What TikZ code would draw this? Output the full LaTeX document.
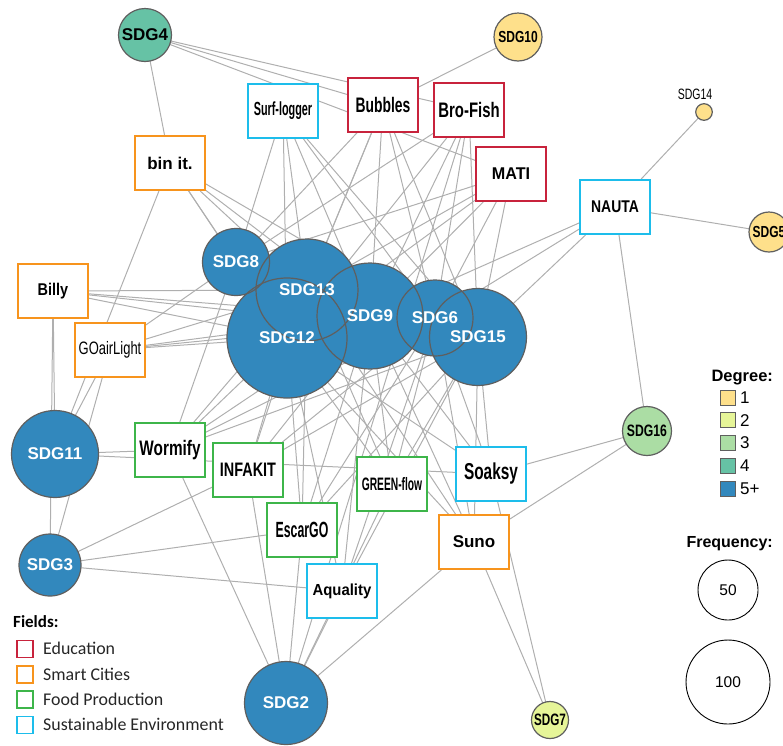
\documentclass[tikz,border=0pt]{standalone}
\usepackage{fontspec}
\usepackage{graphicx}
\setmainfont{Liberation Sans}
\newfontfamily\calfont{Carlito}
\newcommand\fsz[1]{\fontsize{#1}{#1}\selectfont}
\newcommand\sq[2]{\scalebox{#1}[1]{#2}}
\definecolor{deg1}{HTML}{FEE08B}
\definecolor{deg2}{HTML}{E6F598}
\definecolor{deg3}{HTML}{ABDDA4}
\definecolor{deg4}{HTML}{66C2A5}
\definecolor{deg5}{HTML}{3288BD}
\definecolor{edu}{HTML}{C8233C}
\definecolor{smart}{HTML}{F7941D}
\definecolor{food}{HTML}{3DB54A}
\definecolor{envi}{HTML}{1DBDEB}
\definecolor{linkgray}{HTML}{AFAFAF}
\definecolor{rimgray}{HTML}{5F5F5F}
\definecolor{legtext}{HTML}{262626}
\pgfdeclarelayer{background}
\pgfdeclarelayer{foreground}
\pgfsetlayers{background,main,foreground}
\tikzset{
  tie/.style={draw=linkgray, line width=1pt},
  sdgdisc/.style={circle, fill=#1, inner sep=0pt, outer sep=0pt},
  sdgrim/.style={draw=rimgray, line width=1.2pt},
  proj/.style={rectangle, draw=#1, fill=white, line width=1.8pt,
    minimum width=70pt, minimum height=54pt, inner sep=0pt, font=\bfseries},
  degswatch/.style={rectangle, draw=rimgray, fill=#1, line width=1pt,
    minimum size=15pt, inner sep=0pt},
  fieldswatch/.style={rectangle, draw=#1, fill=white, line width=1.4pt,
    minimum width=16pt, minimum height=17pt, inner sep=0pt}
}
\begin{document}
\begin{tikzpicture}[x=1pt,y=-1pt]
  \useasboundingbox (0,0) rectangle (783,745);
  \clip (0,0) rectangle (783,745);
  % SDG discs
  \foreach \n/\x/\y/\r/\col in {
      sdg4/145/35/26.5/deg4, sdg10/518/37/24/deg1, sdg5/769/232/20/deg1,
      sdg8/236/262/33.5/deg5, sdg13/307/290/51/deg5, sdg12/287/338/60/deg5,
      sdg9/370/316/53/deg5, sdg6/435/318/38/deg5, sdg15/478/337/48.5/deg5,
      sdg16/647/431/24.5/deg3, sdg11/55/454/43.5/deg5, sdg3/50/565/31/deg5,
      sdg2/286/703/41.5/deg5, sdg7/550/720/18.5/deg2, sdg14/704/112/8.3/deg1}
    \node[sdgdisc=\col, minimum size=2*\r] (\n) at (\x,\y) {};
  % project boxes
  \node[proj=envi] (surf) at (283,111) {\fsz{19}\sq{0.57}{Surf-logger}};
  \node[proj=edu] (bubbles) at (383,105) {\fsz{21}\sq{0.66}{Bubbles}};
  \node[proj=edu] (brofish) at (469,110) {\fsz{21}\sq{0.71}{Bro-Fish}};
  \node[proj=edu] (mati) at (511,174) {\fsz{17}\sq{0.95}{MATI}};
  \node[proj=smart] (binit) at (170,163) {\fsz{17}bin it.};
  \node[proj=envi] (nauta) at (615,207) {\fsz{17}\sq{0.82}{NAUTA}};
  \node[proj=smart] (billy) at (53,291) {\fsz{17}\sq{0.85}{Billy}};
  \node[proj=smart] (goair) at (110,350) {\fsz{18}\mdseries\sq{0.72}{GOairLight}};
  \node[proj=food] (wormify) at (170,450) {\fsz{21}\sq{0.73}{Wormify}};
  \node[proj=food] (infakit) at (248,470) {\fsz{19.5}\sq{0.74}{INFAKIT}};
  \node[proj=food] (green) at (392,484) {\fsz{18}\sq{0.57}{GREEN-flow}};
  \node[proj=envi] (soaksy) at (491,474) {\fsz{23}\sq{0.67}{Soaksy}};
  \node[proj=food] (escargo) at (302,530) {\fsz{22}\sq{0.56}{EscarGO}};
  \node[proj=smart] (suno) at (474,542) {\fsz{17}Suno};
  \node[proj=envi] (aquality) at (342,591) {\fsz{16}\sq{0.93}{Aquality}};
  % links
  \begin{pgfonlayer}{background}
    \foreach \a/\b in {
        sdg4/binit, sdg4/bubbles, sdg4/brofish, sdg4/mati, sdg10/bubbles,
        sdg14/nauta, sdg5/nauta, sdg7/suno, sdg7/soaksy,
        sdg16/nauta, sdg16/soaksy, sdg16/suno,
        sdg11/billy, sdg11/goair, sdg11/binit, sdg11/wormify, sdg11/soaksy,
        sdg3/billy, sdg3/goair, sdg3/infakit, sdg3/escargo, sdg3/aquality,
        sdg2/wormify, sdg2/infakit, sdg2/escargo, sdg2/aquality, sdg2/green,
        sdg2/suno, sdg2/brofish,
        sdg8/binit, sdg8/surf, sdg8/bubbles, sdg8/brofish, sdg8/mati,
        sdg8/goair, sdg8/wormify,
        sdg13/binit, sdg13/surf, sdg13/bubbles, sdg13/mati, sdg13/billy,
        sdg13/goair, sdg13/wormify, sdg13/infakit, sdg13/green,
        sdg13/escargo, sdg13/suno,
        sdg12/binit, sdg12/surf, sdg12/bubbles, sdg12/brofish, sdg12/mati,
        sdg12/billy, sdg12/goair, sdg12/wormify, sdg12/infakit, sdg12/green,
        sdg12/soaksy, sdg12/escargo, sdg12/suno, sdg12/aquality,
        sdg9/binit, sdg9/surf, sdg9/bubbles, sdg9/brofish, sdg9/mati,
        sdg9/nauta, sdg9/billy, sdg9/goair, sdg9/wormify, sdg9/infakit,
        sdg9/green, sdg9/soaksy, sdg9/escargo, sdg9/suno, sdg9/aquality,
        sdg6/binit, sdg6/surf, sdg6/bubbles, sdg6/brofish, sdg6/mati,
        sdg6/nauta, sdg6/goair, sdg6/wormify, sdg6/infakit, sdg6/green,
        sdg6/soaksy, sdg6/escargo, sdg6/suno, sdg6/aquality,
        sdg15/surf, sdg15/bubbles, sdg15/brofish, sdg15/mati, sdg15/nauta,
        sdg15/billy, sdg15/wormify, sdg15/infakit, sdg15/green,
        sdg15/soaksy, sdg15/escargo, sdg15/suno, sdg15/aquality}
      \draw[tie] (\a) -- (\b);
  \end{pgfonlayer}
  % rims first, then labels on top
  \begin{pgfonlayer}{foreground}
    \foreach \n/\r in {sdg4/26.5, sdg10/24, sdg5/20, sdg8/33.5, sdg13/51,
        sdg12/60, sdg9/53, sdg6/38, sdg15/48.5, sdg16/24.5, sdg11/43.5,
        sdg3/31, sdg2/41.5, sdg7/18.5, sdg14/8.3}
      \draw[sdgrim] (\n) circle[radius=\r];
    \foreach \n/\tc/\s/\k/\t in {
        sdg4/black/17/1/SDG4, sdg10/black/16/0.75/SDG10,
        sdg5/black/16/0.75/SDG5, sdg8/white/17/1/SDG8,
        sdg13/white/17/1/SDG13, sdg12/white/17/1/SDG12,
        sdg9/white/17/1/SDG9, sdg6/white/17/1/SDG6,
        sdg15/white/17/1/SDG15, sdg16/black/16.5/0.74/SDG16,
        sdg11/white/17/1/SDG11, sdg3/white/17/1/SDG3,
        sdg2/white/17/1/SDG2, sdg7/black/16.5/0.71/SDG7}
      \node[text=\tc, font=\bfseries\fsz{\s}] (\n-lab) at (\n) {\sq{\k}{\t}};
    \node[font=\fsz{15}] (sdg14-lab) at (695,94) {\sq{0.7}{SDG14}};
  \end{pgfonlayer}
  % legend: degree
  \node[font=\bfseries\fsz{16.5}, anchor=base west] (deghead) at (708,381) {Degree:};
  \foreach \col/\t [count=\i] in {deg1/1, deg2/2, deg3/3, deg4/4, deg5/5+} {
    \node[degswatch=\col] (degbox\i) at (727.5,375+22.7*\i) {};
    \node[font=\fsz{17}, anchor=west, inner sep=0pt] (deglab\i) at (740,375+22.7*\i) {\t};
  }
  % legend: frequency
  \node[font=\bfseries\fsz{16}, anchor=base west] (freqhead) at (683,547) {Frequency:};
  \node[circle, draw, line width=0.9pt, minimum size=60, inner sep=0pt] (freq50) at (728,590) {\fsz{15.5}50};
  \node[circle, draw, line width=0.9pt, minimum size=84, inner sep=0pt] (freq100) at (728,682) {\fsz{15.5}100};
  % legend: fields
  \node[font=\calfont\bfseries\fsz{17}, anchor=base west, inner sep=0pt] (fieldhead) at (13,627) {Fields:};
  \foreach \col/\t/\y in {edu/Education/649, smart/Smart Cities/674.5,
      food/Food Production/699.5, envi/Sustainable Environment/725} {
    \node[fieldswatch=\col] (field-\col) at (25,\y) {};
    \node[font=\calfont\fsz{17.9}, text=legtext, anchor=base west, inner sep=0pt]
      (field-\col-lab) at (43,\y+5.5) {\t};
  }
\end{tikzpicture}
\end{document}
